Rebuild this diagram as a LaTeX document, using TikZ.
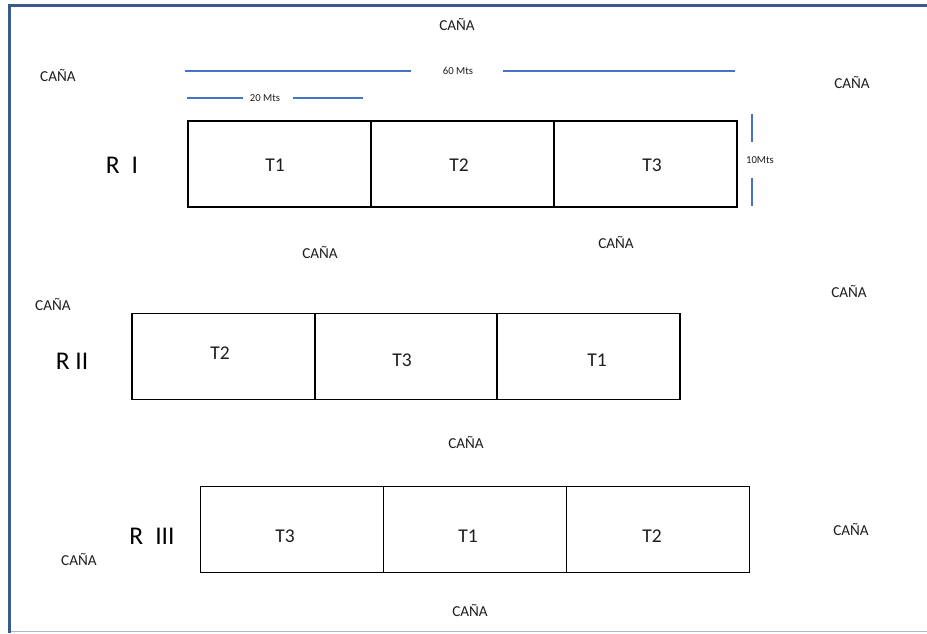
\documentclass[tikz,border=0pt]{standalone}
\usepackage{fontspec}
\setmainfont{Carlito}
\definecolor{framedark}{RGB}{59,90,140}
\definecolor{framelight}{RGB}{166,185,207}
\definecolor{dimblue}{RGB}{68,114,196}
\definecolor{ink}{RGB}{30,30,30}
\begin{document}
\begin{tikzpicture}[x=1pt,y=-1pt,
  cell/.style={draw=black,line width=1.4pt,minimum width=183pt,minimum height=86pt,
    inner sep=0pt},
  tlabel/.style={font=\fontsize{19.5}{22}\selectfont,text=ink,inner sep=0pt},
  cane/.style={font=\fontsize{15.2}{17}\selectfont,text=ink,inner sep=0pt},
  rep/.style={font=\fontsize{25.5}{28}\selectfont,text=black,inner sep=0pt},
  dimtext/.style={font=\fontsize{10.7}{12}\selectfont,text=ink,inner sep=0pt},
  dimline/.style={draw=dimblue,line width=1.6pt}]
\useasboundingbox (0,0) rectangle (927,633);
\fill[white] (0,0) rectangle (927,633);

% page frame
\draw[framelight,line width=1.5pt] (11,631.5) -- (927,631.5);
\draw[framedark,line width=3pt] (8,5) -- (927,5);
\draw[framedark,line width=3pt] (9.5,3.5) -- (9.5,633);

% replicate I
\node[cell] (r1a) at (279.5,164) {};
\node[cell] (r1b) at (462.5,164) {};
\node[cell] (r1c) at (645.5,164) {};
\node[tlabel] (r1at) at (275,165) {T1};
\node[tlabel] (r1bt) at (459,165) {T2};
\node[tlabel] (r1ct) at (652,165) {T3};
\node[rep] (r1) at (122,165) {R\hspace{12pt}I};

% replicate II
\node[cell] (r2a) at (223.5,356.5) {};
\node[cell] (r2b) at (406,356.5) {};
\node[cell] (r2c) at (588.5,356.5) {};
\node[tlabel] (r2at) at (220,353) {T2};
\node[tlabel] (r2bt) at (402,360) {T3};
\node[tlabel] (r2ct) at (597,360) {T1};
\node[rep] (r2) at (72,361) {R II};

% replicate III
\node[cell] (r3a) at (292,529.5) {};
\node[cell] (r3b) at (475,529.5) {};
\node[cell] (r3c) at (658,529.5) {};
\node[tlabel] (r3at) at (285,536) {T3};
\node[tlabel] (r3bt) at (468,536) {T1};
\node[tlabel] (r3ct) at (652,536) {T2};
\node[rep] (r3) at (152,536) {R\hspace{12pt}III};

% dimension marks
\node[dimtext] (d60) at (458,71) {60 Mts};
\coordinate (d60a) at (185,71);
\coordinate (d60b) at (411,71);
\coordinate (d60c) at (503,71);
\coordinate (d60d) at (735,71);
\draw[dimline] (d60a) -- (d60b);
\draw[dimline] (d60c) -- (d60d);

\node[dimtext] (d20) at (265,98) {20 Mts};
\coordinate (d20a) at (187,98);
\coordinate (d20b) at (243,98);
\coordinate (d20c) at (293,98);
\coordinate (d20d) at (363,98);
\draw[dimline] (d20a) -- (d20b);
\draw[dimline] (d20c) -- (d20d);

\node[dimtext] (d10) at (760,160) {10Mts};
\coordinate (d10a) at (752,114);
\coordinate (d10b) at (752,142);
\coordinate (d10c) at (752,178);
\coordinate (d10d) at (752,206);
\draw[dimline] (d10a) -- (d10b);
\draw[dimline] (d10c) -- (d10d);

% surrounding cane
\node[cane] (c1) at (457,24) {CAÑA};
\node[cane] (c2) at (58,75) {CAÑA};
\node[cane] (c3) at (852,82) {CAÑA};
\node[cane] (c4) at (320,252) {CAÑA};
\node[cane] (c5) at (616,242) {CAÑA};
\node[cane] (c6) at (53,304) {CAÑA};
\node[cane] (c7) at (849,291) {CAÑA};
\node[cane] (c8) at (466,442) {CAÑA};
\node[cane] (c9) at (79,559) {CAÑA};
\node[cane] (c10) at (851,529) {CAÑA};
\node[cane] (c11) at (470,610) {CAÑA};
\end{tikzpicture}
\end{document}
